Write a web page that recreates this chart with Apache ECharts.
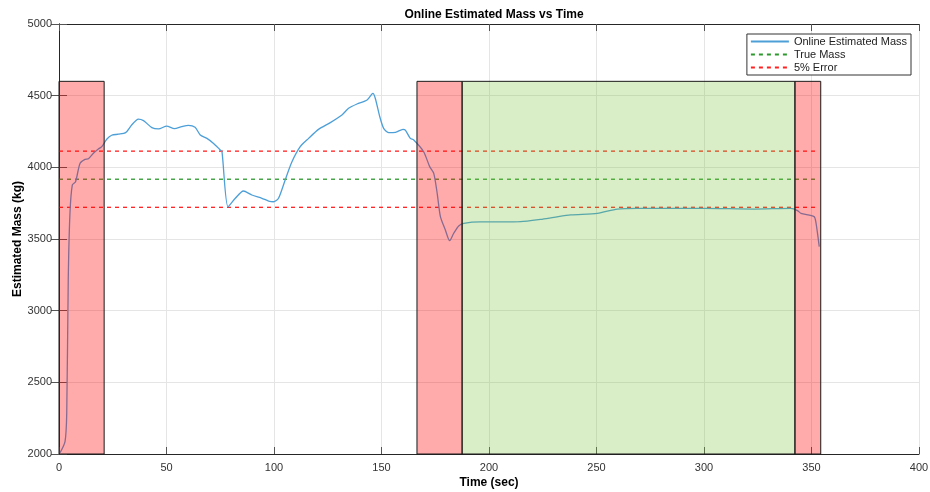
<!DOCTYPE html>
<html>
<head>
<meta charset="utf-8">
<script src="https://cdn.jsdelivr.net/npm/echarts@6/dist/echarts.min.js"></script>
<style>html,body{margin:0;padding:0;background:#fff}#c{width:930px;height:492px}</style>
</head>
<body>
<div id="c"></div>
<script>
// ---- data ----
const timeSec = [0.5, 2.8, 3.6, 4.3, 5.1, 6.2, 7.7, 9.8, 12.1, 13.7, 16.0, 18.3, 19.9, 22.2, 24.5, 27.6, 31.0, 33.8, 36.9, 39.3, 43.2, 46.3, 50.1, 53.7, 57.1, 60.2, 63.3, 65.7, 68.8, 71.9, 75.0, 75.8, 78.6,
  82.0, 85.8, 89.7, 94.4, 97.5, 99.8, 102.1, 105.2, 108.4, 112.2, 116.1, 120.7, 126.2, 131.6, 134.7, 138.6, 143.3, 146.0, 147.1, 149.2, 151.0, 153.3, 156.5, 160.0, 161.1, 163.4, 165.0,
  169.6, 172.4, 174.3, 175.9, 177.4, 179.7, 181.7, 183.6, 185.9, 188.3, 196.0, 205.4, 214.7, 224.0, 230.2, 238.0, 250.4, 259.7, 269.0, 300.0, 323.3, 340.4, 343.5, 345.1, 351.2, 352.0, 353.6];
const estMass = [2009, 2086, 2286, 3214, 3679, 3877, 3900, 4028, 4056, 4060, 4098, 4128, 4144, 4196, 4224, 4231, 4242, 4295, 4337, 4326, 4277, 4268, 4288, 4270, 4284, 4293, 4279, 4226, 4202, 4167, 4121, 4109, 3725,
  3784, 3835, 3807, 3784, 3765, 3760, 3784, 3912, 4040, 4144, 4202, 4265, 4312, 4365, 4412, 4442, 4470, 4516, 4482, 4353, 4272, 4242, 4244, 4265, 4260, 4202, 4191,
  4109, 4005, 3958, 3819, 3656, 3563, 3488, 3540, 3591, 3609, 3619, 3619, 3621, 3637, 3651, 3668, 3679, 3709, 3714, 3714, 3709, 3714, 3698, 3679, 3656, 3621, 3447];
const trueMass = 3917;
const errUpper = 4113;
const errLower = 3721;
const refLineX = [0, 352];
// shaded regions: [xStart, xEnd, yTop, kind]
const regions = [
  [0, 21, 4600, 'bad'],
  [166.5, 187.5, 4600, 'bad'],
  [187.5, 342.3, 4600, 'good'],
  [342.3, 354.3, 4600, 'bad']
];
const xTicks = {min: 0, max: 400, interval: 50};
const yTicks = {min: 2000, max: 5000, interval: 500};

const massPts = timeSec.map((t, i) => [t, estMass[i]]);
const hLine = v => refLineX.map(x => [x, v]);

const axisCol = '#262626';
const font = 'Liberation Sans, Arial, sans-serif';

const chart = echarts.init(document.getElementById('c'), null, {renderer: 'canvas'});
chart.setOption({
  animation: false,
  backgroundColor: '#fff',
  textStyle: {fontFamily: font},
  title: {
    text: 'Online Estimated Mass vs Time',
    left: 489, top: 4, textAlign: 'center',
    textStyle: {fontSize: 12, fontWeight: 'bold', color: '#000', fontFamily: font}
  },
  grid: {left: 59, right: 11, top: 24, bottom: 38, containLabel: false, outerBoundsMode: 'none'},
  legend: {
    right: 19, top: 34, orient: 'vertical',
    backgroundColor: '#fff', borderColor: '#333', borderWidth: 1,
    padding: [2, 4, 2, 3], itemGap: 2, itemWidth: 38, itemHeight: 12,
    textStyle: {fontSize: 11, color: '#222', fontFamily: font},
    itemStyle: {opacity: 0, borderWidth: 0},
    data: ['Online Estimated Mass', 'True Mass', '5% Error']
  },
  xAxis: [{
    type: 'value', min: xTicks.min, max: xTicks.max, interval: xTicks.interval,
    name: 'Time (sec)', nameLocation: 'middle', nameGap: 23, nameMoveOverlap: false,
    nameTextStyle: {fontSize: 12, fontWeight: 'bold', color: '#000'},
    axisLine: {show: true, lineStyle: {color: axisCol, width: 1}},
    axisTick: {show: true, inside: true, length: 7, lineStyle: {color: '#555'}},
    axisLabel: {fontSize: 11, color: '#333', margin: 8},
    splitLine: {show: true, lineStyle: {color: '#e5e5e5', width: 1}}
  }, {
    type: 'value', position: 'top', min: xTicks.min, max: xTicks.max, interval: xTicks.interval,
    axisLine: {show: true, lineStyle: {color: axisCol, width: 1}},
    axisTick: {show: true, inside: true, length: 7, lineStyle: {color: '#555'}},
    axisLabel: {show: false}, splitLine: {show: false}
  }],
  yAxis: [{
    type: 'value', min: yTicks.min, max: yTicks.max, interval: yTicks.interval,
    name: 'Estimated Mass (kg)', nameLocation: 'middle', nameGap: 35, nameMoveOverlap: false,
    nameTextStyle: {fontSize: 12, fontWeight: 'bold', color: '#000'},
    axisLine: {show: true, lineStyle: {color: axisCol, width: 1}},
    axisTick: {show: true, inside: true, length: 8, lineStyle: {color: '#555'}},
    axisLabel: {fontSize: 11, color: '#333', margin: 7, formatter: v => String(v)},
    splitLine: {show: true, lineStyle: {color: '#e5e5e5', width: 1}}
  }, {
    type: 'value', position: 'right', min: yTicks.min, max: yTicks.max, interval: yTicks.interval,
    axisLine: {show: true, lineStyle: {color: axisCol, width: 1}},
    axisTick: {show: true, inside: true, length: 8, lineStyle: {color: '#555'}},
    axisLabel: {show: false}, splitLine: {show: false}
  }],
  series: [
    {
      name: 'Online Estimated Mass', type: 'line', data: massPts, smooth: 0.25,
      showSymbol: false, symbol: 'none', z: 3,
      lineStyle: {color: '#4d9fd8', width: 1.3}, itemStyle: {color: '#4d9fd8'}
    },
    {
      name: 'True Mass', type: 'line', data: hLine(trueMass), showSymbol: false, symbol: 'none', z: 2,
      lineStyle: {color: '#2e9a2e', width: 1.3, type: [4, 4]}, itemStyle: {color: '#2e9a2e'}
    },
    {
      name: '5% Error', type: 'line', data: hLine(errUpper), showSymbol: false, symbol: 'none', z: 2,
      lineStyle: {color: '#ff2222', width: 1.3, type: [4, 4]}, itemStyle: {color: '#ff2222'}
    },
    {
      name: '5% Error', type: 'line', data: hLine(errLower), showSymbol: false, symbol: 'none', z: 2,
      lineStyle: {color: '#ff2222', width: 1.3, type: [4, 4]}, itemStyle: {color: '#ff2222'}
    },
    {
      name: 'regions', type: 'custom', z: 5, silent: true,
      data: regions.map(r => [r[0], r[1], r[2], r[3] === 'good' ? 1 : 0]),
      encode: {x: [0, 1], y: 2},
      renderItem: function (params, api) {
        const p1 = api.coord([api.value(0), api.value(2)]);
        const p2 = api.coord([api.value(1), yTicks.min]);
        const good = api.value(3) === 1;
        return {
          type: 'rect',
          shape: {x: p1[0], y: p1[1], width: p2[0] - p1[0], height: p2[1] - p1[1]},
          style: {
            fill: good ? 'rgba(119,190,50,0.28)' : 'rgba(255,0,0,0.33)',
            stroke: '#1a1a1a', lineWidth: 1
          }
        };
      }
    }
  ]
});
</script>
</body>
</html>
